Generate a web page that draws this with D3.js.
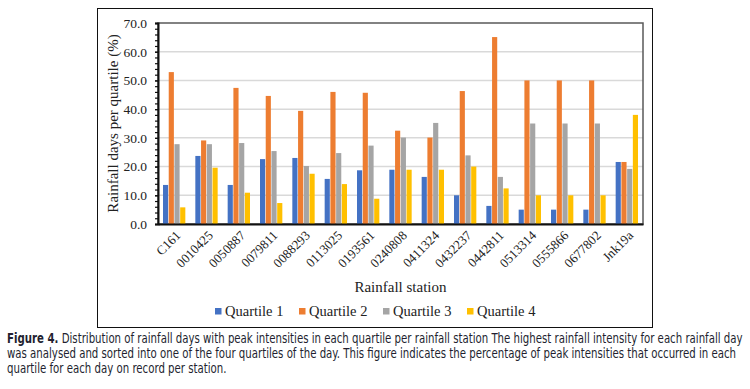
<!DOCTYPE html>
<html>
<head>
<meta charset="utf-8">
<script src="https://cdn.jsdelivr.net/npm/d3@7"></script>
<style>
  body { margin: 0; background: #fff; }
  svg { display: block; }
</style>
</head>
<body>
<div id="chart"></div>
<script>
// chart data
const stations = ["C161", "0010425", "0050887", "0079811", "0088293", "0113025", "0193561",
  "0240808", "0411324", "0432237", "0442811", "0513314", "0555866", "0677802", "Jnk19a"];
const quartileNames = ["Quartile 1", "Quartile 2", "Quartile 3", "Quartile 4"];
const quartile1 = [13.6, 23.7, 13.6, 22.6, 23.0, 15.7, 18.7, 18.9, 16.4, 10.0, 6.3, 5.0, 5.0, 5.0, 21.6];
const quartile2 = [52.9, 29.1, 47.4, 44.6, 39.4, 46.0, 45.7, 32.5, 30.1, 46.3, 65.1, 50.0, 50.0, 50.0, 21.6];
const quartile3 = [27.8, 27.8, 28.2, 25.4, 20.2, 24.7, 27.3, 30.1, 35.2, 23.9, 16.4, 35.0, 35.0, 35.0, 19.2];
const quartile4 = [5.8, 19.6, 10.9, 7.3, 17.5, 13.9, 8.8, 18.9, 18.9, 20.0, 12.4, 10.0, 10.0, 10.0, 38.0];
const yTicks = [0, 10, 20, 30, 40, 50, 60, 70];

const colours = ["#4472C4", "#ED7D31", "#A5A5A5", "#FFC000"];
const series = [quartile1, quartile2, quartile3, quartile4];

// build rows for the grouped bars
const rows = stations.map((s, i) => ({
  station: s,
  values: quartileNames.map((q, k) => ({ key: q, k: k, value: series[k][i] }))
}));

const W = 750, H = 389;
const margin = { top: 23, right: 107, bottom: 165, left: 158 };
const width = W - margin.left - margin.right;
const height = H - margin.top - margin.bottom;
const serif = "'Liberation Serif', 'Times New Roman', serif";

const svg = d3.select("#chart").append("svg").attr("width", W).attr("height", H);

// outer frame round the figure
svg.append("rect")
  .attr("x", 97.5).attr("y", 8.5)
  .attr("width", 555).attr("height", 319)
  .attr("fill", "none").attr("stroke", "#111").attr("stroke-width", 1);

const g = svg.append("g").attr("transform", `translate(${margin.left},${margin.top})`);

const x0 = d3.scaleBand().domain(stations).range([0, width]).padding(0);
const x1 = d3.scaleBand().domain(quartileNames)
  .range([5, x0.bandwidth() - 5]).paddingInner(0.1);
const y = d3.scaleLinear().domain([0, 70]).range([height, 0]);

// gridlines
g.append("g")
  .selectAll("line")
  .data(yTicks.filter(t => t > 0 && t < 70))
  .join("line")
  .attr("x1", 0).attr("x2", width)
  .attr("y1", d => y(d)).attr("y2", d => y(d))
  .attr("stroke", "#d9d9d9").attr("stroke-width", 1.5);

// plot area border
g.append("rect")
  .attr("width", width).attr("height", height)
  .attr("fill", "none").attr("stroke", "#595959").attr("stroke-width", 1.5);

// bars
const group = g.selectAll(".station")
  .data(rows)
  .join("g")
  .attr("class", "station")
  .attr("transform", d => `translate(${x0(d.station)},0)`);

group.selectAll("rect")
  .data(d => d.values)
  .join("rect")
  .attr("x", d => x1(d.key))
  .attr("width", x1.bandwidth())
  .attr("y", d => y(d.value))
  .attr("height", d => y(0) - y(d.value))
  .attr("fill", d => colours[d.k]);

// y axis, major ticks with labels
const yAxisG = g.append("g")
  .call(d3.axisLeft(y).tickValues(yTicks).tickFormat(d3.format(".1f")).tickSize(3).tickPadding(8));
yAxisG.select(".domain").attr("stroke", "#111").attr("stroke-width", 2);
yAxisG.selectAll(".tick line").attr("stroke", "#111").attr("stroke-width", 1.2);
yAxisG.selectAll("text")
  .attr("font-family", serif).attr("font-size", 13.5).attr("fill", "#222");

// minor ticks every 2
const minorG = g.append("g")
  .call(d3.axisLeft(y).tickValues(d3.range(0, 71, 2)).tickFormat("").tickSize(3));
minorG.select(".domain").remove();
minorG.selectAll(".tick line").attr("stroke", "#111").attr("stroke-width", 1.2);

// x axis
const xAxisG = g.append("g")
  .attr("transform", `translate(0,${height})`)
  .call(d3.axisBottom(x0).tickSize(0).tickPadding(0));
xAxisG.select(".domain").attr("stroke", "#111").attr("stroke-width", 2);
xAxisG.selectAll("text")
  .attr("font-family", serif).attr("font-size", 13).attr("fill", "#222")
  .attr("text-anchor", "end")
  .attr("dy", "0.35em")
  .attr("transform", "translate(4,9) rotate(-45)");

// axis titles
g.append("text")
  .attr("transform", `translate(-40,${height / 2}) rotate(-90)`)
  .attr("text-anchor", "middle")
  .attr("font-family", serif).attr("font-size", 15).attr("fill", "#222")
  .text("Rainfall days per quartile (%)");

g.append("text")
  .attr("x", width / 2).attr("y", height + 68)
  .attr("text-anchor", "middle")
  .attr("font-family", serif).attr("font-size", 15).attr("fill", "#222")
  .text("Rainfall station");

// legend
const legend = svg.append("g").attr("transform", "translate(215,316)");
const item = legend.selectAll("g")
  .data(quartileNames)
  .join("g")
  .attr("transform", (d, i) => `translate(${i * 84},0)`);
item.append("rect")
  .attr("x", 0).attr("y", -8).attr("width", 6.5).attr("height", 6.5)
  .attr("fill", (d, i) => colours[i]);
item.append("text")
  .attr("x", 10).attr("y", 0)
  .attr("font-family", serif).attr("font-size", 14.5).attr("fill", "#222")
  .text(d => d);

// caption - keep the height, squeeze it sideways like the condensed journal font
const captionFont = "'DejaVu Sans Condensed', 'Liberation Sans Narrow', 'Open Sans', sans-serif";
const captionOuter = svg.append("g").attr("transform", "translate(7,0)");
const caption = captionOuter.append("g").attr("font-family", captionFont)
  .attr("font-size", 13.5).attr("fill", "#231f30");
const line1 = caption.append("text").attr("x", 0).attr("y", 343);
line1.append("tspan").attr("font-weight", "bold").text("Figure 4.");
line1.append("tspan").text(" Distribution of rainfall days with peak intensities in each quartile per rainfall station The highest rainfall intensity for each rainfall day");
const line2 = caption.append("text").attr("x", 0).attr("y", 358)
  .text("was analysed and sorted into one of the four quartiles of the day. This figure indicates the percentage of peak intensities that occurred in each");
caption.append("text").attr("x", 0).attr("y", 373)
  .text("quartile for each day on record per station.");

const sx = Math.min(
  736 / line1.node().getComputedTextLength(),
  736 / line2.node().getComputedTextLength(),
  1
);
caption.attr("transform", `scale(${sx},1)`);
</script>
</body>
</html>
